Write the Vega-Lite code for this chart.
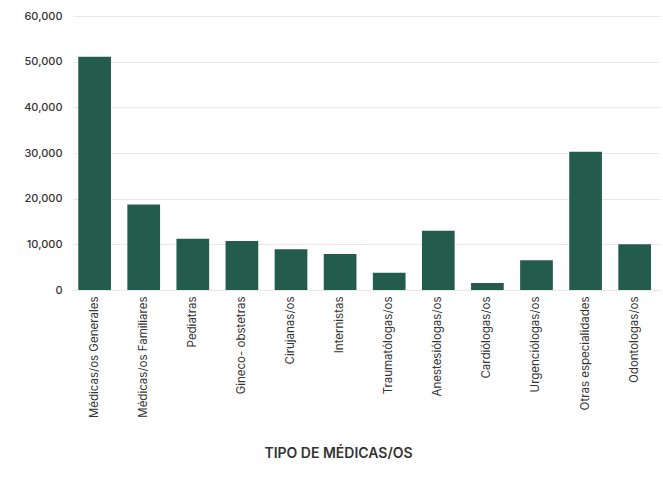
{
  "$schema": "https://vega.github.io/schema/vega-lite/v6.json",
  "width": 587,
  "height": 274,
  "autosize": {"type": "none"},
  "padding": {"left": 73, "top": 16, "right": 3, "bottom": 195},
  "background": "white",
  "config": {
    "view": {"stroke": null},
    "font": "Inter",
    "axis": {"labelFont": "Inter", "titleFont": "Inter", "labelColor": "#333333", "titleColor": "#333333"}
  },
  "data": {
    "values": [
      {"tipo": "Médicas/os Generales", "valor": 51100},
      {"tipo": "Médicas/os Familiares", "valor": 18700},
      {"tipo": "Pediatras", "valor": 11200},
      {"tipo": "Gineco- obstetras", "valor": 10750},
      {"tipo": "Cirujanas/os", "valor": 8900},
      {"tipo": "Internistas", "valor": 7900},
      {"tipo": "Traumatólogas/os", "valor": 3800},
      {"tipo": "Anestesiólogas/os", "valor": 13000},
      {"tipo": "Cardiólogas/os", "valor": 1530},
      {"tipo": "Urgenciólogas/os", "valor": 6500},
      {"tipo": "Otras especialidades", "valor": 30260},
      {"tipo": "Odontologas/os", "valor": 10000}
    ]
  },
  "mark": {"type": "bar", "color": "#235c4d"},
  "encoding": {
    "x": {
      "field": "tipo",
      "type": "nominal",
      "sort": null,
      "scale": {"paddingInner": 0.334, "paddingOuter": 0.145, "align": 0.37},
      "axis": {
        "title": "TIPO DE MÉDICAS/OS",
        "titleFontSize": 14,
        "titleFontWeight": 600,
        "titlePadding": 29,
        "titleX": 265,
        "labelAngle": -90,
        "labelFontSize": 11.5,
        "labelPadding": 6,
        "ticks": false,
        "domain": false
      }
    },
    "y": {
      "field": "valor",
      "type": "quantitative",
      "scale": {"domain": [0, 60000]},
      "axis": {
        "title": null,
        "format": ",d",
        "values": [0, 10000, 20000, 30000, 40000, 50000, 60000],
        "labelOverlap": false,
        "labelFontSize": 11,
        "labelFontWeight": 500,
        "labelPadding": 11,
        "ticks": false,
        "domain": false,
        "gridColor": "#e8e8e8"
      }
    }
  }
}
